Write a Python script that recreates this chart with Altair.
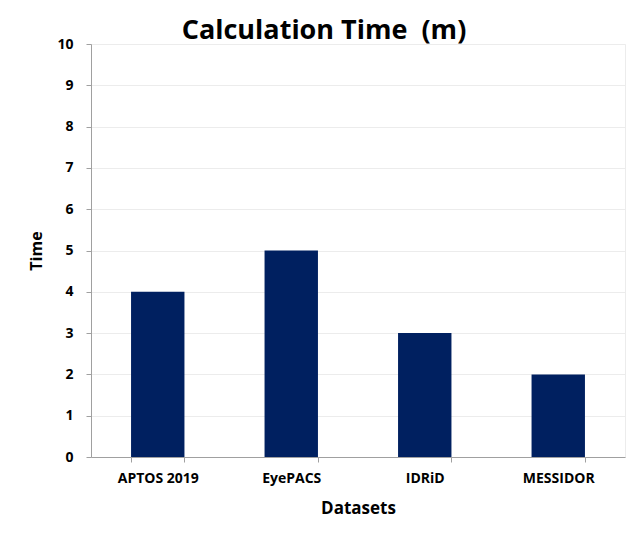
import altair as alt
import pandas as pd

datasets = ["APTOS 2019", "EyePACS", "IDRiD", "MESSIDOR"]
times = [4, 5, 3, 2]
y_ticks = [0, 1, 2, 3, 4, 5, 6, 7, 8, 9, 10]

df = pd.DataFrame({"Datasets": datasets, "Time": times})

FONT = "Open Sans"

chart = alt.Chart(df).mark_bar(color="#002060").encode(
    x=alt.X("Datasets:N", sort=datasets,
            scale=alt.Scale(paddingInner=0.6, paddingOuter=0.3),
            axis=alt.Axis(title="Datasets", labelAngle=0, tickBand="extent",
                          ticks=True, tickSize=5, tickColor="#a0a0a0",
                          domainColor="#a0a0a0", grid=False,
                          labelFont=FONT, labelFontSize=14, labelFontWeight="bold",
                          labelColor="#000000", labelPadding=9,
                          titleFont=FONT, titleFontSize=17, titleFontWeight="bold",
                          titleColor="#000000", titlePadding=15)),
    y=alt.Y("Time:Q", scale=alt.Scale(domain=[0, 10], nice=False),
            axis=alt.Axis(title="Time", values=y_ticks, tickSize=5,
                          tickColor="#a0a0a0", domainColor="#a0a0a0",
                          gridColor="#ececec", gridWidth=1,
                          labelFont=FONT, labelFontSize=14, labelFontWeight="bold",
                          labelColor="#000000", labelPadding=13,
                          titleFont=FONT, titleFontSize=16, titleFontWeight="bold",
                          titleColor="#000000", titlePadding=12)),
).properties(
    width=534,
    height=413,
    title=alt.TitleParams("Calculation Time\u00a0\u00a0(m)", font=FONT, fontSize=27,
                          fontWeight="bold", color="#000000", anchor="middle",
                          offset=-8, dx=-34),
    padding={"left": 20, "top": 9, "right": 10, "bottom": 10},
).configure_view(stroke="#ececec")

chart.save("out.html", embed_options={"renderer": "svg", "actions": False})
